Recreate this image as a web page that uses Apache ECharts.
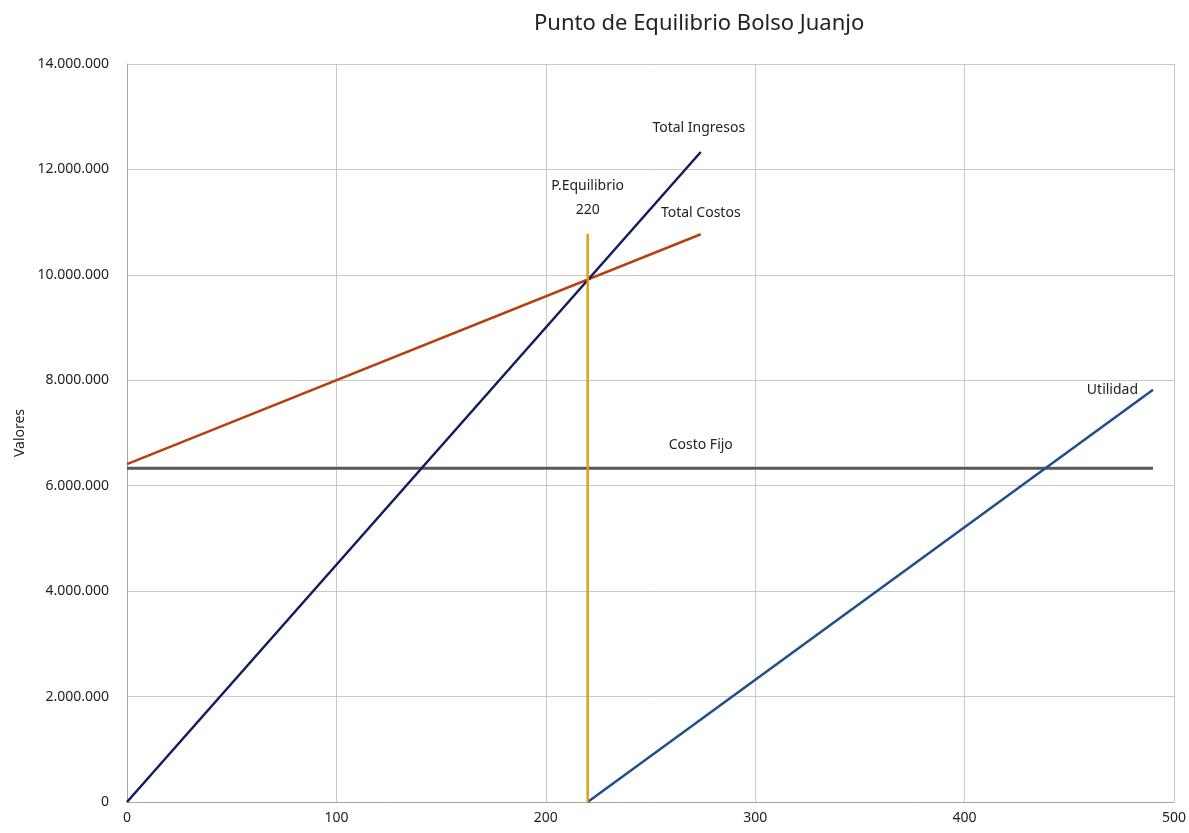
<!DOCTYPE html>
<html>
<head>
<meta charset="utf-8">
<script src="https://cdn.jsdelivr.net/npm/echarts@6/dist/echarts.min.js"></script>
<style>html,body{margin:0;padding:0;background:#fff;}#c{width:1189px;height:833px;}</style>
</head>
<body>
<div id="c"></div>
<script>
// Data
const title = 'Punto de Equilibrio Bolso Juanjo';
const xTicks = [0, 100, 200, 300, 400, 500];
const yTicks = [0, 2000000, 4000000, 6000000, 8000000, 10000000, 12000000, 14000000];
const ingresosX = [0, 274];
const ingresosY = [0, 12330000];
const costosX = [0, 274];
const costosY = [6410000, 10770000];
const fijoX = [0, 274, 490];
const fijoY = [6330000, 6330000, 6330000];
const utilidadX = [220, 490];
const utilidadY = [0, 7820000];
const equilibrioX = [220, 220];
const equilibrioY = [0, 10780000];
const equilibrioUnits = 220;

const FONT = '"Noto Sans", "Open Sans", sans-serif';
const zip = (xs, ys) => xs.map((x, i) => [x, ys[i]]);
const fmt = v => v === 0 ? '0' : String(v).replace(/\B(?=(\d{3})+(?!\d))/g, '.');
const labelStyle = {fontFamily: FONT, fontSize: 14, color: '#222'};

function withLabel(points, idx, label) {
  return points.map((p, i) => i === idx
    ? {value: p, label: Object.assign({show: true}, labelStyle, label)}
    : {value: p, label: {show: false}});
}

function lineSeries(name, color, width, z, data) {
  return {
    name: name, type: 'line', z: z,
    symbol: 'circle', symbolSize: 0.01, showSymbol: true,
    itemStyle: {color: color},
    lineStyle: {color: color, width: width},
    label: {show: false},
    data: data
  };
}

const chart = echarts.init(document.getElementById('c'));
chart.setOption({
  animation: false,
  backgroundColor: '#ffffff',
  title: {
    text: title, left: 529, top: 8,
    textStyle: {fontFamily: FONT, fontSize: 22, fontWeight: 'normal', color: '#222'}
  },
  grid: {left: 127, right: 15, top: 64, bottom: 31, containLabel: false},
  xAxis: {
    type: 'value', min: xTicks[0], max: xTicks[xTicks.length - 1], interval: 100,
    axisLine: {show: true, lineStyle: {color: '#a6a6a6', width: 1}},
    axisTick: {show: false},
    axisLabel: {fontFamily: FONT, fontSize: 14, color: '#222', margin: 9},
    splitLine: {show: true, lineStyle: {color: '#c8c8c8', width: 1}}
  },
  yAxis: {
    type: 'value', min: yTicks[0], max: yTicks[yTicks.length - 1], interval: 2000000,
    name: 'Valores', nameLocation: 'middle', nameRotate: 90, nameGap: 100,
    nameTextStyle: {fontFamily: FONT, fontSize: 14, color: '#222'},
    axisLine: {show: true, lineStyle: {color: '#a6a6a6', width: 1}},
    axisTick: {show: false},
    axisLabel: {fontFamily: FONT, fontSize: 14, color: '#222', margin: 18, formatter: fmt},
    splitLine: {show: true, lineStyle: {color: '#c8c8c8', width: 1}}
  },
  series: [
    lineSeries('Costo Fijo', '#595959', 3, 2,
      withLabel(zip(fijoX, fijoY), 1, {position: 'top', distance: 16, formatter: 'Costo Fijo'})),
    lineSeries('Total Costos', '#b5410f', 2.5, 3,
      withLabel(zip(costosX, costosY), 1, {position: 'top', distance: 14, formatter: 'Total Costos'})),
    lineSeries('Total Ingresos', '#121c5c', 2.5, 4,
      withLabel(zip(ingresosX, ingresosY), 1, {position: 'top', distance: 17, offset: [-2, 0], formatter: 'Total Ingresos'})),
    lineSeries('P.Equilibrio', '#e0a010', 2.5, 5,
      withLabel(zip(equilibrioX, equilibrioY), 1, {position: 'top', distance: 12, lineHeight: 24, align: 'center', formatter: 'P.Equilibrio\n' + equilibrioUnits})),
    lineSeries('Utilidad', '#1f4e8a', 2.5, 4,
      withLabel(zip(utilidadX, utilidadY), 1, {position: 'left', distance: 15, formatter: 'Utilidad'}))
  ]
});
</script>
</body>
</html>
